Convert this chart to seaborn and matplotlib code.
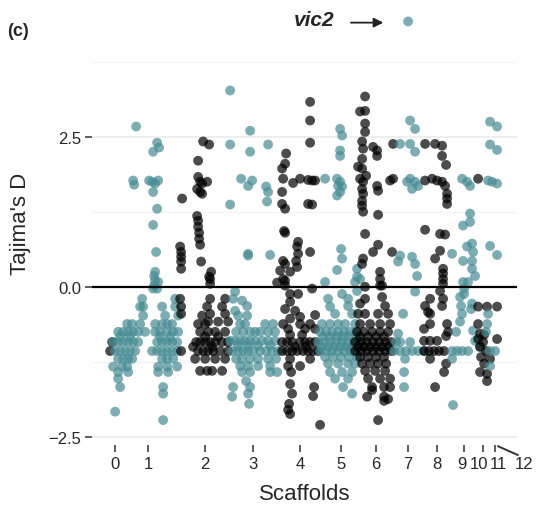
import pandas as pd
import matplotlib.pyplot as plt
import matplotlib.transforms as mtransforms
import seaborn as sns

# Tajima's D per window; x = cumulative window position along the genome (x100 kb)
# single windows: (position, D)
scaffold_0 = [(112, -0.92), (110, -1.07)]
scaffold_1 = [(136, 2.67), (157, 2.4), (153, 2.25), (159, 2.32), (133, 1.77), (134, 1.7),
              (149, 1.77), (152, 1.75), (155, 1.72), (158, 1.77), (153, 1.58), (157, 1.3),
              (153, 1.03), (156, 0.58), (155, 0.25), (154, 0.18), (155, 0.1), (154, 0.02),
              (158, 0.08), (153, -0.03), (157, -0.03), (118, -1.53), (120, -1.67),
              (163, -1.67), (163, -1.78), (115, -2.08), (163, -2.22)]
scaffold_2 = [(203, 2.42), (209, 2.37), (198, 2.1), (198, 1.83), (200, 1.75), (207, 1.75),
              (202, 1.72), (197, 1.63), (200, 1.58), (202, 1.55), (182, 1.47), (197, 1.18),
              (198, 1.1), (198, 1.0), (199, 0.9), (199, 0.8), (200, 0.7), (201, 0.42),
              (180, 0.67), (181, 0.58), (181, 0.5), (181, 0.42), (181, 0.3), (211, 0.25),
              (209, 0.17), (210, 0.13), (210, 0.05), (180, -0.2), (181, -0.33),
              (181, -0.45), (181, -1.07), (202, -0.48)]
scaffold_3 = [(230, 3.27), (250, 2.6), (230, 2.37), (250, 2.25), (268, 2.37), (241, 1.8),
              (252, 1.77), (248, 1.68), (266, 1.67), (268, 1.58), (267, 1.42), (230, 1.37),
              (248, 0.55), (248, 0.52), (270, 0.53), (235, -0.08), (233, -0.2), (242, -0.23),
              (247, -0.32), (235, -0.4), (246, -1.57), (233, -1.67), (250, -1.67),
              (248, -1.78), (232, -1.83), (249, -1.95)]
scaffold_4 = [(310, 3.08), (310, 2.77), (310, 2.4), (286, 2.22), (285, 2.05), (282, 1.97),
              (283, 1.8), (293, 1.73), (300, 1.8), (308, 1.78), (312, 1.77), (315, 1.77),
              (282, 1.58), (282, 1.38), (285, 1.3), (308, 1.38), (312, 1.37), (284, 0.93),
              (285, 0.9), (298, 0.75), (297, 0.67), (298, 0.55), (296, 0.43), (297, 0.33),
              (310, 0.58), (283, 0.43), (285, 0.38), (280, 0.27), (290, 0.25), (283, 0.13),
              (285, 0.1), (277, 0.07), (285, 0.02), (290, -0.12), (298, -0.12), (312, -0.03),
              (290, -0.25), (285, -0.37), (295, -0.4), (300, -0.5), (315, -0.47),
              (290, -0.53), (291, -1.42), (290, -1.62), (314, -1.67), (292, -1.78),
              (313, -1.82), (289, -1.95), (288, -2.05), (290, -2.12), (320, -2.3)]
scaffold_5 = [(340, 2.63), (342, 2.52), (340, 2.27), (340, 2.18), (325, 1.8), (337, 1.8),
              (340, 1.75), (338, 1.68), (342, 1.67), (340, 1.58), (337, 1.52), (341, 0.63),
              (342, 0.47), (337, 0.28), (357, 0.3), (357, 0.17), (360, 0.13), (325, 0.08),
              (355, 0.08), (357, -0.07), (342, -0.12), (328, -0.2), (348, -0.2),
              (330, -0.33), (348, -0.32), (335, -0.45), (352, -0.45), (343, -1.67),
              (352, -1.78)]
scaffold_6 = [(365, 3.17), (365, 2.93), (360, 2.92), (365, 2.72), (365, 2.58), (362, 2.42),
              (363, 2.3), (362, 2.13), (358, 2.0), (362, 1.97), (366, 1.85), (360, 1.8),
              (363, 1.75), (362, 1.63), (363, 1.55), (362, 1.43), (362, 1.35), (363, 1.25),
              (373, 2.33), (377, 2.27), (377, 2.18), (377, 1.68), (378, 1.6), (378, 1.2),
              (390, 1.77), (393, 1.8), (393, 2.38), (365, 0.88), (378, 0.7), (373, 0.58),
              (392, 0.58), (363, 0.47), (362, 0.38), (380, 0.25), (380, 0.13), (380, 0.02),
              (365, 0.0), (382, 0.02), (382, -0.17), (365, -0.2), (360, -0.28),
              (385, -0.32), (372, -1.72), (367, -1.83), (384, -1.83), (388, -1.87),
              (384, -1.9), (378, -2.22)]
scaffold_7 = [(408, 4.42), (410, 2.77), (415, 2.63), (400, 2.38), (410, 2.38), (415, 2.25),
              (410, 1.8), (407, 1.75), (415, 1.75), (418, 1.68), (412, 1.63), (400, 0.52),
              (412, 0.5), (398, 0.42), (415, 0.38), (417, 0.18), (415, -0.08), (403, -0.45),
              (398, -0.78), (396, -0.92), (400, -0.92), (410, -0.92), (405, -1.2),
              (404, -1.42), (404, -1.67)]
scaffold_8 = [(425, 2.38), (435, 2.38), (442, 2.35), (442, 2.18), (446, 2.03), (425, 1.77),
              (432, 1.8), (437, 1.77), (442, 1.75), (445, 1.68), (447, 1.55), (447, 1.47),
              (447, 1.38), (425, 0.95), (440, 0.88), (445, 0.87), (440, 0.6), (435, 0.47),
              (443, 0.3), (443, 0.22), (443, 0.13), (443, 0.05), (440, -0.07), (430, -0.2),
              (443, -0.2), (425, -0.32), (442, -0.32), (428, -0.42), (430, -0.45),
              (430, -0.62), (447, -0.62), (424, -0.7), (448, -0.75), (446, -0.82),
              (424, -0.9), (430, -0.9), (437, -0.9), (430, -1.2), (446, -1.28),
              (444, -1.42), (435, -1.67)]
scaffold_9 = [(462, 1.8), (467, 1.75), (470, 1.68), (470, 1.22), (470, 1.08), (463, 1.02),
              (472, 0.72), (467, 0.67), (473, 0.58), (452, 0.55), (472, 0.43), (463, 0.43),
              (472, 0.3), (475, 0.18), (468, 0.08), (463, 0.08), (464, -0.03), (464, -0.12),
              (460, -0.17), (472, -0.28), (461, -0.32), (471, -0.37), (462, -0.45),
              (460, -0.58), (473, -0.73), (456, -0.75), (475, -0.9), (480, -1.0),
              (452, -1.07), (457, -1.07), (462, -1.07), (468, -1.07), (452, -1.2),
              (453, -1.97)]
scaffold_10 = [(478, 1.8), (478, -0.33), (487, -0.33), (497, -0.33), (478, -0.62),
               (480, -0.78), (484, -0.8), (478, -0.87), (497, -0.87), (483, -0.92),
               (480, -1.0), (486, -1.07), (481, -1.17), (490, -1.2), (484, -1.28),
               (480, -1.42), (487, -1.45), (487, -1.57)]
scaffold_11 = [(490, 2.75), (497, 2.67), (490, 2.37), (497, 2.28), (488, 1.77), (492, 1.75),
               (497, 1.72), (490, 0.68), (497, 0.53), (488, -0.45), (487, -0.62),
               (486, -0.75), (490, -1.07), (495, -1.07), (490, -1.32)]

# dense runs of windows sharing the same D value: (D, [positions])
scaffold_1_runs = [(-0.2, [142, 175]), (-0.33, [140, 143, 162, 175]), (-0.48, [143, 165, 178]),
                   (-0.62, [127, 132, 140, 155, 162, 167, 172]),
                   (-0.75, [118, 123, 128, 133, 138, 145, 155, 160, 167, 173, 178]),
                   (-0.83, [120, 130, 160, 170]),
                   (-0.92, [113, 118, 123, 128, 133, 138, 157, 162, 167, 172, 177]),
                   (-1.07, [115, 120, 125, 130, 135, 152, 157, 162, 167, 172, 177]),
                   (-1.2, [118, 123, 128, 132, 162, 167, 173]),
                   (-1.33, [113, 122, 127, 158, 167, 177]), (-1.42, [118, 128, 158, 168])]
scaffold_2_runs = [(-0.2, [210, 225]), (-0.33, [207, 222]), (-0.45, [210, 225]),
                   (-0.58, [208, 218, 228]), (-0.62, [198, 205]), (-0.75, [200, 208, 215, 225]),
                   (-0.83, [205, 218]), (-0.92, [196, 200, 205, 210, 215, 222, 228]),
                   (-1.0, [193, 212]), (-1.07, [198, 203, 208, 213, 220, 228]),
                   (-1.2, [195, 205, 215, 225]), (-1.4, [200, 207, 212, 222])]
scaffold_3_runs = [(-0.48, [238, 247]), (-0.62, [240, 245, 265, 273]),
                   (-0.75, [236, 243, 250, 255, 260, 268, 275]),
                   (-0.9, [230, 235, 240, 245, 250, 255, 262, 268, 275]),
                   (-0.98, [238, 248, 258, 270]),
                   (-1.07, [232, 238, 243, 248, 253, 260, 266, 272, 278]),
                   (-1.2, [236, 242, 250, 258, 268, 276]), (-1.32, [240, 248, 258, 270]),
                   (-1.42, [242, 250, 270, 277])]
scaffold_4_runs = [(-0.62, [283, 300, 310]), (-0.7, [288, 305, 315]), (-0.8, [290, 302]),
                   (-0.92, [282, 287, 292, 300, 305, 310, 315]), (-1.0, [295, 306]),
                   (-1.07, [282, 287, 292, 297, 303, 308, 313, 318]), (-1.2, [290, 310]),
                   (-1.32, [288, 300])]
scaffold_5_runs = [(-0.62, [322, 330, 338, 345, 355]),
                   (-0.75, [320, 326, 332, 338, 344, 350, 356]),
                   (-0.83, [323, 330, 337, 343, 349, 356]),
                   (-0.92, [318, 324, 330, 336, 342, 348, 354, 360]),
                   (-1.0, [322, 328, 334, 340, 346, 352, 358]),
                   (-1.07, [320, 326, 332, 338, 344, 350, 356]),
                   (-1.17, [325, 333, 341, 349, 357]), (-1.28, [328, 338, 348, 355]),
                   (-1.42, [330, 342, 352]), (-1.53, [335, 348])]
scaffold_6_runs = [(-0.45, [358, 365, 378, 388]), (-0.62, [360, 370, 380, 390]),
                   (-0.75, [357, 364, 372, 380, 388]), (-0.83, [360, 368, 376, 384]),
                   (-0.92, [355, 361, 367, 373, 379, 385, 391]),
                   (-1.0, [358, 364, 370, 376, 382, 388]),
                   (-1.07, [355, 361, 367, 373, 379, 385, 391]),
                   (-1.17, [360, 368, 376, 384]), (-1.28, [362, 370, 378, 386]),
                   (-1.4, [365, 375, 385]), (-1.53, [368, 380, 390]), (-1.67, [372, 384, 390])]
scaffold_7_runs = [(-1.07, [394, 400, 406, 412, 418, 424])]
scaffold_8_runs = [(-1.07, [424, 429, 434, 439, 444])]

scaffold_labels = ['0', '1', '2', '3', '4', '5', '6', '7', '8', '9', '10', '11', '12']
scaffold_centres = [115, 148, 205, 253, 300, 341, 376, 408, 437, 464, 483, 495, 514]

singles = [scaffold_0, scaffold_1, scaffold_2, scaffold_3, scaffold_4, scaffold_5, scaffold_6,
           scaffold_7, scaffold_8, scaffold_9, scaffold_10, scaffold_11]
runs = {1: scaffold_1_runs, 2: scaffold_2_runs, 3: scaffold_3_runs, 4: scaffold_4_runs,
        5: scaffold_5_runs, 6: scaffold_6_runs, 7: scaffold_7_runs, 8: scaffold_8_runs}

rows = []
for i, pts in enumerate(singles):
    for pos, d in pts:
        rows.append((i, pos, d))
    for d, positions in runs.get(i, []):
        for pos in positions:
            rows.append((i, pos, d))
df = pd.DataFrame(rows, columns=['scaffold', 'pos', 'D'])
df['shade'] = (df['scaffold'] % 2).map({0: 'even', 1: 'odd'})

sns.set_theme(style='white')
plt.rcParams['font.family'] = ['Liberation Sans', 'DejaVu Sans']

fig = plt.figure(figsize=(5.42, 5.06), dpi=100)
ax = fig.add_axes([0.170, 0.118, 0.784, 0.878])

# grid first, then points, zero line on top
for y in [-2.5, 0.0, 2.5]:
    ax.axhline(y, color='#ebebeb', lw=1.2, zorder=0)
for y in [-1.25, 1.25, 3.75]:
    ax.axhline(y, color='#f2f2f2', lw=0.7, zorder=0)

sns.scatterplot(data=df, x='pos', y='D', hue='shade', hue_order=['even', 'odd'],
                palette={'even': 'black', 'odd': '#468b93'}, alpha=0.7, s=50,
                linewidth=0, legend=False, ax=ax, zorder=2)
ax.axhline(0, color='black', lw=1.6, zorder=3)

ax.set_xlim(92, 517)
ax.set_ylim(-2.64, 4.76)
ax.set_xticks(scaffold_centres)
ax.set_xticklabels(scaffold_labels, fontsize=12)
ax.set_yticks([-2.5, 0.0, 2.5])
ax.set_yticklabels(['\u22122.5', '0.0', '2.5'], fontsize=12)
ax.tick_params(axis='both', length=5, width=1.1, color='#333333', pad=3, bottom=True, left=True)
ax.xaxis.get_major_ticks()[-1].tick1line.set_visible(False)
for s in ax.spines.values():
    s.set_visible(False)

# the last few scaffold labels are crowded: nudge them apart (points)
nudges = {9: -1.5, 10: -3.0, 11: 2.5, 12: 7.5}
for idx, dx in nudges.items():
    lab = ax.get_xticklabels()[idx]
    lab.set_transform(lab.get_transform() + mtransforms.ScaledTranslation(dx / 72, 0, fig.dpi_scale_trans))

ax.set_xlabel('Scaffolds', fontsize=16, labelpad=8)
ax.set_ylabel("Tajima's D", fontsize=16, labelpad=12)

# slanted mark next to the last scaffold tick
ax.plot([0.955, 1.002], [-0.002, -0.022], transform=ax.transAxes, color='#333333',
        lw=1.4, clip_on=False)

ax.annotate('', xy=(386, 4.4), xytext=(348, 4.4),
            arrowprops=dict(arrowstyle='-|>', color='#222222', lw=1.3, mutation_scale=14))
ax.text(334, 4.45, 'vic2', fontsize=15, fontweight='bold', fontstyle='italic',
        ha='right', va='center')
fig.text(0.013, 0.938, '(c)', fontsize=13, fontweight='bold', va='center')

plt.savefig('out.png', dpi=100)
